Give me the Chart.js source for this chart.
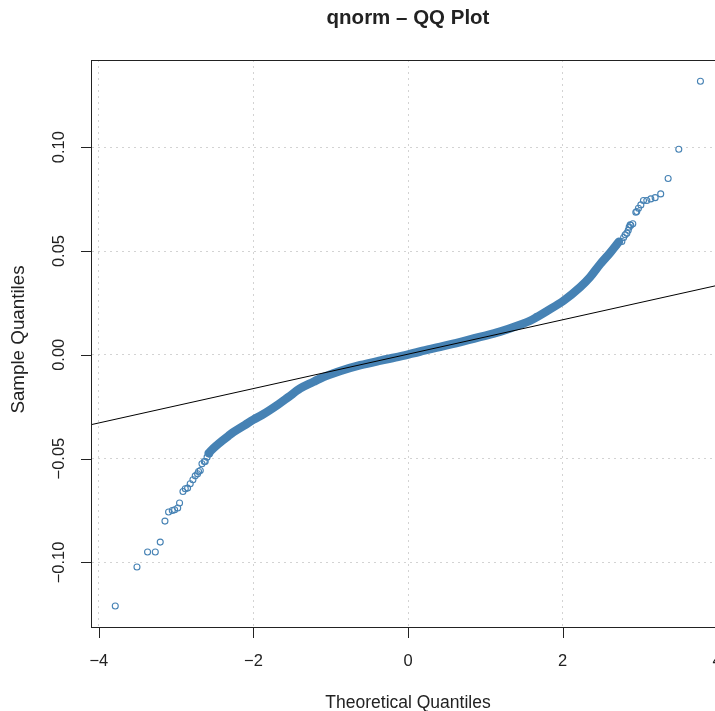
<!DOCTYPE html>
<html><head><meta charset="utf-8">
<script src="https://cdn.jsdelivr.net/npm/chart.js@4.4.1/dist/chart.umd.min.js"></script>
<style>
html,body{margin:0;padding:0;overflow:hidden;background:#fff;width:715px;height:711px}
#wrap{position:absolute;left:0;top:0;width:735px;height:711px}
canvas{display:block}
</style></head><body>
<div id="wrap"><canvas id="c" width="735" height="711" style="width:735px;height:711px"></canvas></div>
<script>
const chartTitle = 'qnorm – QQ Plot';
const xAxisTitle = 'Theoretical Quantiles';
const yAxisTitle = 'Sample Quantiles';
const xTickValues = [-4, -2, 0, 2, 4];
const xTickLabels = ['−4', '−2', '0', '2', '4'];
const yTickValues = [-0.10, -0.05, 0, 0.05, 0.10];
const yTickLabels = ['−0.10', '−0.05', '0.00', '0.05', '0.10'];
const xRange = [-4.089, 4.089];
const yRange = [-0.1311, 0.1420];

// dense central part of the sample (read along the band)
const bodyX = [-2.58, -2.537, -2.387, -2.322, -2.257, -2.106, -2.0, -1.89, -1.675, -1.546, -1.395, -1.222, -1.136, -0.877, -0.618, -0.36, -0.101, 0.158, 0.417, 0.675, 0.934, 1.193, 1.452, 1.58, 1.667, 1.797, 2.01, 2.228, 2.357, 2.487, 2.616, 2.73];
const bodyY = [-0.0474, -0.0457, -0.0409, -0.0390, -0.0372, -0.0337, -0.0312, -0.0290, -0.0238, -0.0203, -0.0162, -0.0130, -0.0114, -0.0078, -0.0050, -0.0028, -0.0008, 0.0016, 0.0038, 0.0061, 0.0086, 0.0112, 0.0145, 0.0164, 0.0182, 0.0211, 0.0260, 0.0326, 0.0375, 0.0437, 0.0492, 0.0545];

// sparse tail points
const tailX = [-3.788, -3.507, -3.37, -3.27, -3.206, -3.145, -3.098, -3.05, -3.02, -2.98, -2.956, -2.912, -2.882, -2.852, -2.818, -2.783, -2.753, -2.723, -2.71, -2.688, -2.666, -2.636, -2.624, -2.60, -2.57,
  2.70, 2.767, 2.79, 2.81, 2.832, 2.85, 2.862, 2.875, 2.883, 2.909, 2.948, 2.96, 2.982, 3.013, 3.047, 3.09, 3.142, 3.198, 3.27, 3.366, 3.504, 3.784];
const tailY = [-0.1210, -0.1022, -0.0950, -0.0950, -0.0902, -0.0801, -0.0757, -0.0750, -0.0746, -0.0738, -0.0714, -0.0658, -0.0645, -0.0642, -0.0621, -0.0602, -0.0583, -0.0573, -0.0562, -0.0557, -0.0525, -0.0514, -0.0514, -0.0493, -0.0478,
  0.0530, 0.0546, 0.0565, 0.0578, 0.0586, 0.0600, 0.0615, 0.0626, 0.0624, 0.0631, 0.0687, 0.0690, 0.0706, 0.0722, 0.0743, 0.0743, 0.0751, 0.0757, 0.0775, 0.0849, 0.0990, 0.1318];

// reference line (qqline) end points
const qqLineX = [-4.3, 4.3];
const qqLineY = [-0.0353, 0.0359];

const toPts = (xs, ys) => xs.map((x, i) => ({x: x, y: ys[i]}));
const FONT = '"Liberation Sans", Arial, Helvetica, sans-serif';
const TEXT = '#222';

const rPlugin = {
  id: 'rstyle',
  afterDraw(chart) {
    const {ctx, chartArea: a} = chart;
    const xs = chart.scales.x, ys = chart.scales.y;
    ctx.save();
    ctx.strokeStyle = '#222';
    ctx.lineWidth = 1;
    ctx.strokeRect(a.left - 0.5, a.top + 0.5, a.right - a.left + 1, a.bottom - a.top);
    ctx.beginPath();
    xTickValues.forEach(v => {
      const px = Math.round(xs.getPixelForValue(v)) + 0.5;
      ctx.moveTo(px, a.bottom); ctx.lineTo(px, a.bottom + 11);
    });
    yTickValues.forEach(v => {
      const py = Math.round(ys.getPixelForValue(v)) + 0.5;
      ctx.moveTo(a.left, py); ctx.lineTo(a.left - 11, py);
    });
    ctx.stroke();
    ctx.fillStyle = TEXT;
    ctx.textAlign = 'center';
    ctx.textBaseline = 'middle';
    ctx.font = '16.5px ' + FONT;
    xTickValues.forEach((v, i) => ctx.fillText(xTickLabels[i], xs.getPixelForValue(v), 661));
    yTickValues.forEach((v, i) => {
      ctx.save();
      ctx.translate(59.5, ys.getPixelForValue(v));
      ctx.rotate(-Math.PI / 2);
      ctx.fillText(yTickLabels[i], 0, 0);
      ctx.restore();
    });
    ctx.font = '17.5px ' + FONT;
    ctx.fillText(xAxisTitle, (a.left + a.right) / 2, 703);
    ctx.save();
    ctx.font = '18.8px ' + FONT;
    ctx.translate(18.5, (a.top + a.bottom) / 2 - 4);
    ctx.rotate(-Math.PI / 2);
    ctx.fillText(yAxisTitle, 0, 0);
    ctx.restore();
    ctx.font = 'bold 20.5px ' + FONT;
    ctx.fillText(chartTitle, (a.left + a.right) / 2, 18.5);
    ctx.restore();
  }
};

const gridCommon = {color: '#d3d3d3', lineWidth: 1, drawTicks: false, drawOnChartArea: true};

new Chart(document.getElementById('c'), {
  type: 'scatter',
  data: {
    datasets: [
      {data: toPts(qqLineX, qqLineY), showLine: true, borderColor: '#000', borderWidth: 1, pointRadius: 0, clip: 0},
      {data: toPts(bodyX, bodyY), showLine: true, borderColor: '#4682B4', borderWidth: 8.5, pointRadius: 0,
       borderCapStyle: 'round', borderJoinStyle: 'round', cubicInterpolationMode: 'monotone', clip: 0},
      {data: toPts(tailX, tailY), showLine: false, pointRadius: 3, pointBorderWidth: 1.1,
       pointBorderColor: '#4682B4', pointBackgroundColor: 'rgba(0,0,0,0)', borderColor: '#4682B4', clip: 0}
    ]
  },
  options: {
    responsive: false,
    animation: false,
    devicePixelRatio: 1,
    events: [],
    layout: {padding: {top: 60, left: 0, right: 11, bottom: 0}},
    plugins: {legend: {display: false}, tooltip: {enabled: false}, title: {display: false}},
    scales: {
      x: {
        type: 'linear', min: xRange[0], max: xRange[1],
        afterBuildTicks: s => { s.ticks = xTickValues.map(v => ({value: v})); },
        afterFit: s => { s.height = 84; },
        ticks: {display: false},
        grid: gridCommon,
        border: {display: false, dash: [2, 4]}
      },
      y: {
        type: 'linear', min: yRange[0], max: yRange[1],
        afterBuildTicks: s => { s.ticks = yTickValues.map(v => ({value: v})); },
        afterFit: s => { s.width = 92; },
        ticks: {display: false},
        grid: gridCommon,
        border: {display: false, dash: [2, 4]}
      }
    }
  },
  plugins: [rPlugin]
});
</script>
</body></html>
